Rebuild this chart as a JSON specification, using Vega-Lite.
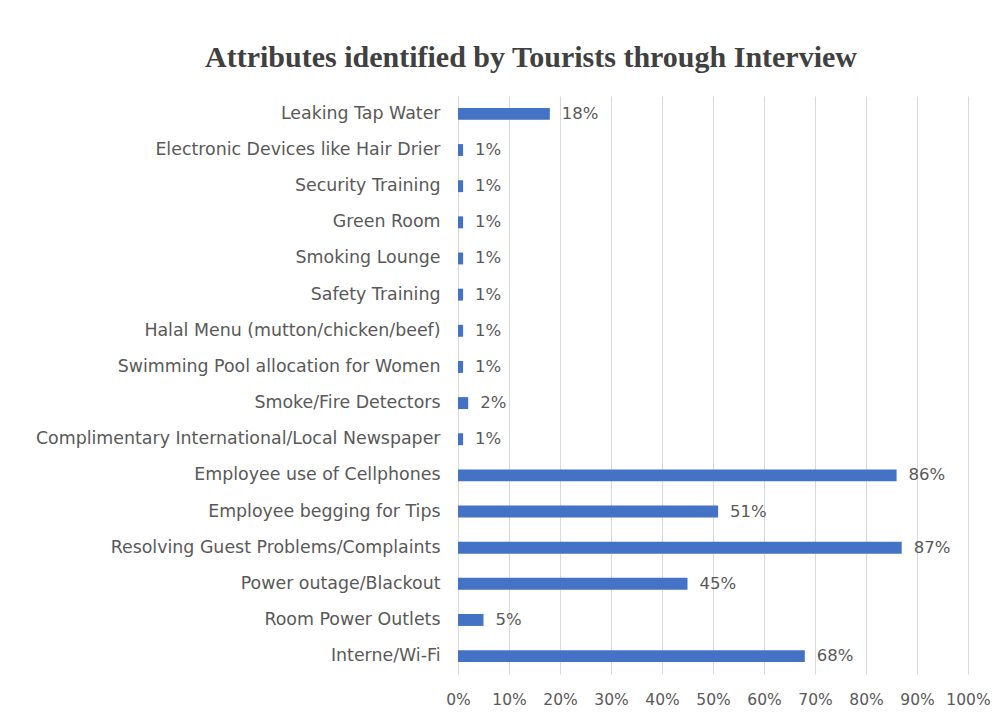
{
  "$schema": "https://vega.github.io/schema/vega-lite/v6.json",
  "autosize": "none",
  "width": 510,
  "height": 578,
  "padding": {"left": 458, "top": 96, "right": 39, "bottom": 48},
  "background": "white",
  "title": {
    "text": "Attributes identified by Tourists through Interview",
    "font": "Liberation Serif",
    "fontWeight": "bold",
    "fontSize": 30,
    "color": "#404040",
    "anchor": "middle",
    "dx": -182,
    "offset": 23
  },
  "data": {
    "values": [
      {"attribute": "Leaking Tap Water", "share": 0.18},
      {"attribute": "Electronic Devices like Hair Drier", "share": 0.01},
      {"attribute": "Security Training", "share": 0.01},
      {"attribute": "Green Room", "share": 0.01},
      {"attribute": "Smoking Lounge", "share": 0.01},
      {"attribute": "Safety Training", "share": 0.01},
      {"attribute": "Halal Menu (mutton/chicken/beef)", "share": 0.01},
      {"attribute": "Swimming Pool allocation for Women", "share": 0.01},
      {"attribute": "Smoke/Fire Detectors", "share": 0.02},
      {"attribute": "Complimentary International/Local Newspaper", "share": 0.01},
      {"attribute": "Employee use of Cellphones", "share": 0.86},
      {"attribute": "Employee begging for Tips", "share": 0.51},
      {"attribute": "Resolving Guest Problems/Complaints", "share": 0.87},
      {"attribute": "Power outage/Blackout", "share": 0.45},
      {"attribute": "Room Power Outlets", "share": 0.05},
      {"attribute": "Interne/Wi-Fi", "share": 0.68}
    ]
  },
  "encoding": {
    "y": {
      "field": "attribute",
      "type": "nominal",
      "sort": null,
      "title": null,
      "scale": {"paddingInner": 0.67, "paddingOuter": 0.33},
      "axis": {
        "domain": true,
        "domainColor": "#d9d9d9",
        "ticks": false,
        "labelPadding": 18,
        "labelFont": "DejaVu Sans",
        "labelFontSize": 17.4,
        "labelColor": "#595959",
        "labelLimit": 500
      }
    },
    "x": {
      "field": "share",
      "type": "quantitative",
      "title": null,
      "scale": {"domain": [0, 1]},
      "axis": {
        "format": ".0%",
        "values": [0, 0.1, 0.2, 0.3, 0.4, 0.5, 0.6, 0.7, 0.8, 0.9, 1],
        "labelOverlap": false,
        "labelBound": false,
        "labelFlush": false,
        "domain": false,
        "ticks": false,
        "grid": true,
        "gridColor": "#d9d9d9",
        "labelPadding": 18,
        "labelFont": "DejaVu Sans",
        "labelFontSize": 15.5,
        "labelColor": "#595959"
      }
    }
  },
  "layer": [
    {"mark": {"type": "bar", "color": "#4472C4"}},
    {
      "mark": {
        "type": "text",
        "align": "left",
        "baseline": "middle",
        "dx": 12,
        "font": "DejaVu Sans",
        "fontSize": 16.5,
        "color": "#595959"
      },
      "encoding": {"text": {"field": "share", "type": "quantitative", "format": ".0%"}}
    }
  ],
  "config": {"view": {"stroke": null}}
}
